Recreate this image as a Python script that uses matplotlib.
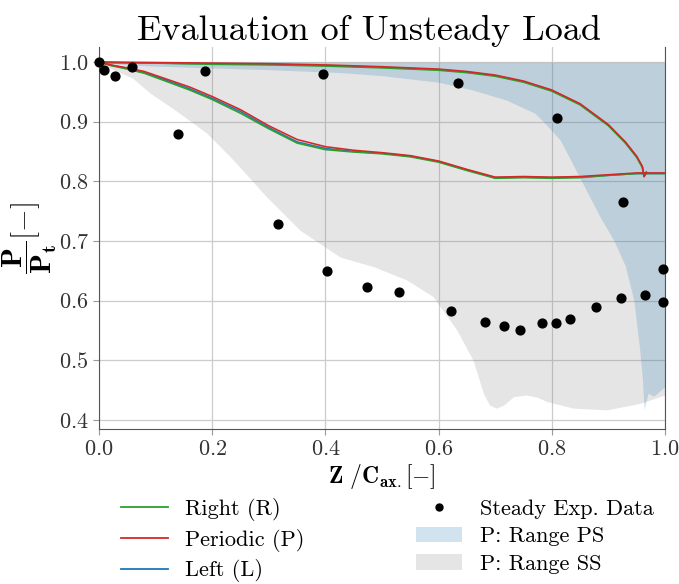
import numpy as np
import matplotlib.pyplot as plt
from matplotlib.patches import Patch
from matplotlib.lines import Line2D

plt.rcParams['font.family'] = ['cmr10', 'DejaVu Serif']
plt.rcParams['mathtext.fontset'] = 'cm'
plt.rcParams['axes.formatter.use_mathtext'] = True

# steady experimental data
exp_x = [0.0, 0.009, 0.028, 0.058, 0.139, 0.188, 0.316, 0.395, 0.402, 0.473, 0.530,
         0.622, 0.634, 0.682, 0.715, 0.744, 0.782, 0.808, 0.810, 0.832, 0.878,
         0.922, 0.926, 0.965, 0.997, 0.996]
exp_y = [1.0, 0.987, 0.977, 0.992, 0.879, 0.985, 0.729, 0.980, 0.650, 0.623, 0.615,
         0.583, 0.965, 0.565, 0.557, 0.551, 0.563, 0.563, 0.906, 0.570, 0.589,
         0.604, 0.765, 0.609, 0.653, 0.598]

# suction side curves
ss_x = [0.0, 0.02, 0.05, 0.08, 0.12, 0.16, 0.20, 0.25, 0.30, 0.35, 0.40, 0.45,
        0.50, 0.55, 0.60, 0.65, 0.70, 0.75, 0.80, 0.85, 0.90, 0.95, 1.0]
ss_periodic = [1.0, 0.995, 0.990, 0.984, 0.971, 0.958, 0.942, 0.920, 0.893, 0.870, 0.858, 0.852,
               0.848, 0.843, 0.834, 0.820, 0.807, 0.808, 0.807, 0.808, 0.811, 0.814, 0.814]
ss_right = [1.0, 0.994, 0.988, 0.981, 0.967, 0.953, 0.937, 0.914, 0.888, 0.864, 0.853, 0.849,
            0.846, 0.841, 0.832, 0.818, 0.805, 0.806, 0.805, 0.806, 0.810, 0.813, 0.813]
ss_left = [1.0, 0.995, 0.989, 0.982, 0.969, 0.955, 0.939, 0.917, 0.890, 0.866, 0.855, 0.850,
           0.847, 0.842, 0.833, 0.819, 0.806, 0.807, 0.806, 0.807, 0.810, 0.813, 0.813]

# pressure side curves
ps_x = [0.0, 0.1, 0.2, 0.3, 0.4, 0.5, 0.6, 0.65, 0.7, 0.75, 0.8, 0.85, 0.9,
        0.93, 0.95, 0.96, 0.963, 0.967]
ps_periodic = [1.0, 0.999, 0.998, 0.997, 0.995, 0.992, 0.988, 0.984, 0.978, 0.968, 0.953,
               0.930, 0.895, 0.866, 0.842, 0.825, 0.808, 0.815]
ps_right = [0.999, 0.998, 0.996, 0.995, 0.993, 0.990, 0.986, 0.982, 0.976, 0.966, 0.951,
            0.928, 0.893, 0.864, 0.840, 0.823, 0.808, 0.815]
ps_left = [0.999, 0.998, 0.997, 0.996, 0.994, 0.991, 0.987, 0.983, 0.977, 0.967, 0.952,
           0.929, 0.894, 0.865, 0.841, 0.824, 0.808, 0.815]

# ranges
rps_x = [0.0, 0.05, 0.1, 0.2, 0.3, 0.43, 0.5, 0.6, 0.66, 0.72, 0.77, 0.79, 0.815, 0.85,
         0.885, 0.91, 0.93, 0.945, 0.955, 0.96, 0.963, 0.97, 0.98, 1.0]
rps_lo = [1.0, 0.995, 0.993, 0.990, 0.987, 0.982, 0.977, 0.966, 0.953, 0.936, 0.914, 0.895,
          0.869, 0.805, 0.741, 0.700, 0.658, 0.600, 0.520, 0.470, 0.417, 0.445, 0.44, 0.456]
rps_hi = [1.0, 1.0, 1.0, 1.0, 1.0, 0.999, 0.999, 0.999, 0.999, 0.999, 0.999, 0.999,
          0.999, 0.999, 0.999, 0.999, 0.999, 0.999, 0.999, 0.999, 0.999, 0.999, 0.999, 0.999]

rss_x = [0.0, 0.018, 0.059, 0.09, 0.138, 0.19, 0.237, 0.296, 0.355, 0.426, 0.485, 0.543,
         0.59, 0.632, 0.661, 0.679, 0.69, 0.702, 0.715, 0.732, 0.755, 0.775, 0.791,
         0.838, 0.897, 0.956, 1.0]
rss_lo = [1.0, 0.99, 0.973, 0.948, 0.917, 0.881, 0.836, 0.774, 0.718, 0.673, 0.657, 0.635,
          0.607, 0.551, 0.5, 0.445, 0.425, 0.42, 0.425, 0.439, 0.442, 0.438, 0.431,
          0.42, 0.417, 0.428, 0.442]
rss_hi = [1.0] * len(rss_x)

fig = plt.figure(figsize=(6.79, 5.84), dpi=100)
ax = fig.add_axes([99/679, 1-429/584, 566/679, 382/584])

ax.fill_between(rss_x, rss_lo, rss_hi, color='grey', alpha=0.2, lw=0, zorder=1)
ax.fill_between(rps_x, rps_lo, rps_hi, color='tab:blue', alpha=0.2, lw=0, zorder=2)

lw = 1.15
ax.plot(ss_x, ss_left, color='tab:blue', lw=lw, zorder=3)
ax.plot(ps_x, ps_left, color='tab:blue', lw=lw, zorder=3)
ax.plot(ss_x, ss_right, color='tab:green', lw=lw, zorder=4)
ax.plot(ps_x, ps_right, color='tab:green', lw=lw, zorder=4)
ax.plot(ss_x, ss_periodic, color='tab:red', lw=lw, zorder=5)
ax.plot(ps_x, ps_periodic, color='tab:red', lw=lw, zorder=5)

ax.scatter(exp_x, exp_y, s=40, color='black', zorder=6, clip_on=False)

ax.set_xlim(0, 1.0)
ax.set_ylim(0.385, 1.025)
ax.set_xticks([0.0, 0.2, 0.4, 0.6, 0.8, 1.0])
ax.set_yticks([0.4, 0.5, 0.6, 0.7, 0.8, 0.9, 1.0])
ax.grid(True, color='#cccccc', lw=0.9)
ax.set_axisbelow(True)
ax.spines['top'].set_visible(False)
for s in ['left', 'right', 'bottom']:
    ax.spines[s].set_color('#555555')
ax.tick_params(labelsize=16, colors='#333333', length=4, color='#999999')

ax.set_title('Evaluation of Unsteady Load', fontsize=26, pad=5, x=0.477)
ax.set_xlabel(r'$\mathbf{Z}\ /\mathbf{C_{ax.}}[-]$', fontsize=17, labelpad=2)
ax.set_ylabel(r'$\dfrac{\mathbf{P}}{\mathbf{P_t}}[-]$', fontsize=21, labelpad=0)

handles = [Line2D([], [], color='tab:green', lw=1.3),
           Line2D([], [], color='tab:red', lw=1.3),
           Line2D([], [], color='tab:blue', lw=1.3),
           Line2D([], [], ls='none', marker='o', ms=5, color='black'),
           Patch(facecolor='tab:blue', alpha=0.2),
           Patch(facecolor='grey', alpha=0.2)]
labels = ['Right (R)', 'Periodic (P)', 'Left (L)', 'Steady Exp. Data',
          'P: Range PS', 'P: Range SS']
fig.legend(handles, labels, ncol=2, loc='upper left', bbox_to_anchor=(112/679, 1-489/584),
           borderaxespad=0, frameon=False, fontsize=16, labelspacing=0.35,
           columnspacing=5.0, handlelength=2.1)

fig.savefig('out.png', dpi=100)
